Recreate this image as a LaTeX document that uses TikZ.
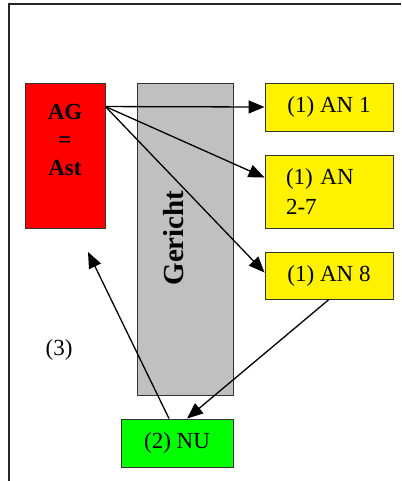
\documentclass[tikz,border=0pt]{standalone}
\usepackage{fontspec}
\setmainfont{Liberation Serif}
\usetikzlibrary{arrows.meta,calc}
\begin{document}
\begin{tikzpicture}[x=1pt,y=-1pt,
  box/.style={draw=black!80,line width=0.9pt,inner sep=0pt,font=\fontsize{23}{28}\selectfont},
  redbox/.style={box,fill=red,minimum width=80pt,minimum height=145pt},
  graybox/.style={box,fill={rgb,255:red,192;green,192;blue,192},minimum width=96pt,minimum height=312pt},
  yellowbox/.style={box,fill=yellow,minimum width=128pt},
  greenbox/.style={box,fill={rgb,255:red,0;green,255;blue,0},minimum width=112pt,minimum height=48pt},
  lbl/.style={inner sep=0pt,font=\fontsize{23}{28}\selectfont},
  conn/.style={line width=1.3pt,-{Triangle[length=16pt,width=13pt]}},
  frameline/.style={line width=1.6pt,draw=black!85}]
\useasboundingbox (0,0) rectangle (401,481);
\fill[white] (0,0) rectangle (401,481);
% outer frame
\coordinate (ftr) at (401,4);
\coordinate (ftl) at (9,4);
\coordinate (fbl) at (9,481);
\draw[frameline] (ftr) -- (ftl) -- (fbl);
% boxes
\node[redbox] (ag) at (65,155.5) {};
\node[lbl,align=center,font=\fontsize{23}{28}\selectfont\bfseries] (agl) at (65,140) {AG\\=\\Ast};
\node[graybox] (ger) at (185,239.5) {};
\node[lbl,rotate=90,font=\fontsize{29}{34}\selectfont\bfseries] (gerl) at (174,238) {Gericht};
\node[yellowbox,minimum height=48pt] (an1) at (329,107) {(1) AN 1};
\node[yellowbox,minimum height=73pt,text width=86pt,inner xsep=21pt,align=left,font=\fontsize{23}{29.5}\selectfont] (an27) at (329,191.5) {(1) AN\\2-7};
\node[yellowbox,minimum height=47pt] (an8) at (329,275.5) {(1) AN 8};
\node[greenbox] (nu) at (177,443) {(2) NU};
\node[lbl] (n3) at (59,350) {(3)};
% connectors
\coordinate (agout) at ($(ag.north east)+(0,24)$);
\coordinate (agin) at (88,252);
\draw[conn] (agout) -- (an1.west);
\draw[conn] (agout) -- ($(an27.north west)+(0,23)$);
\draw[conn] (agout) -- ($(an8.north west)+(0,21)$);
\draw[conn] (an8.south) -- ($(nu.north)+(10,0)$);
\draw[conn] ($(nu.north)+(-8,0)$) -- (agin);
\end{tikzpicture}
\end{document}
